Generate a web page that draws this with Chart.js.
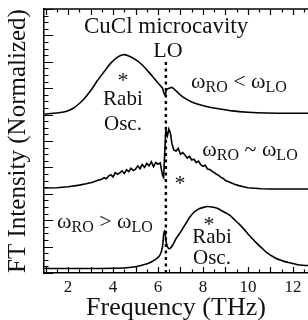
<!DOCTYPE html>
<html><head><meta charset="utf-8">
<script src="https://cdn.jsdelivr.net/npm/chart.js@4"></script>
<style>html,body{margin:0;padding:0;background:#fff}#w{width:308px;height:320px;position:relative}</style>
</head><body><div id="w"><canvas id="c"></canvas></div>
<script>
// ---- data (frequency in THz, intensity in normalized offset units) ----
const xTicks = [2, 4, 6, 8, 10, 12];
const loFreq = [6.35, 6.35];
const loLevel = [0, 8.0];

const topFreq = [0.95,1.5,1.8,2.0,2.25,2.5,2.7,3.0,3.3,3.6,3.9,4.2,4.45,4.7,5.0,5.3,5.6,5.9,6.1,6.2,6.25,6.32,6.38,6.5,6.62,6.8,7.1,7.5,7.9,8.3,8.7,9.3,10.0,10.8,12.7];
const topVal  = [6.02,6.06,6.10,6.15,6.25,6.42,6.58,6.90,7.28,7.62,7.95,8.18,8.27,8.22,8.08,7.88,7.60,7.30,7.10,7.00,6.85,6.75,6.95,7.00,7.03,6.90,6.67,6.48,6.36,6.28,6.22,6.14,6.09,6.06,6.05];

const midFreq = [0.95,1.5,2.0,2.5,2.8,3.1,3.3,
  3.5,3.6,3.7,3.8,3.9,4.0,4.1,4.2,4.3,4.4,4.5,4.6,4.7,4.8,4.9,5.0,5.1,5.2,5.3,5.4,5.5,5.6,5.7,5.8,5.9,6.0,6.1,
  6.2,6.25,6.3,6.35,6.42,6.48,6.55,6.62,
  6.7,6.8,6.9,7.0,7.1,7.2,7.3,7.4,7.5,7.6,7.7,7.8,7.9,8.0,8.1,8.2,8.3,8.4,8.5,8.6,8.7,8.8,8.9,9.0,
  9.2,9.4,9.6,9.8,10.0,10.3,10.6,11.0,11.5,12.0,12.7];
const midVal  = [3.22,3.23,3.27,3.33,3.38,3.44,3.50,
  3.55,3.61,3.57,3.67,3.72,3.64,3.80,3.74,3.79,3.87,3.77,3.91,3.84,3.97,3.88,3.93,4.06,3.95,4.11,4.00,4.15,4.06,4.21,4.03,4.19,4.12,4.17,
  3.70,3.62,4.60,5.40,5.20,5.45,5.30,4.90,
  4.66,4.62,4.72,4.50,4.56,4.47,4.35,4.42,4.28,4.31,4.18,4.24,4.10,4.04,4.08,3.94,3.92,3.86,3.80,3.74,3.70,3.62,3.58,3.50,
  3.44,3.36,3.31,3.27,3.23,3.21,3.19,3.18,3.18,3.18,3.18];

const botFreq = [0.95,3.0,4.0,4.6,5.0,5.4,5.7,5.95,6.1,6.2,6.25,6.3,6.38,6.5,6.65,6.8,7.0,7.2,7.4,7.6,7.8,8.0,8.2,8.4,8.6,8.8,9.0,9.2,9.4,9.6,9.8,10.0,10.2,10.4,10.6,10.8,11.0,11.2,11.4,11.6,11.8,12.0,12.3,12.7];
const botVal  = [0.17,0.17,0.18,0.20,0.24,0.32,0.42,0.55,0.70,1.00,1.45,1.60,1.10,0.92,1.05,1.30,1.55,1.82,2.10,2.30,2.42,2.48,2.52,2.50,2.46,2.38,2.28,2.18,2.02,1.86,1.68,1.48,1.30,1.12,0.96,0.80,0.68,0.58,0.50,0.44,0.40,0.36,0.30,0.28];

const pts = (xs, ys) => xs.map((x, i) => ({x, y: ys[i]}));
const SERIF = '"Liberation Serif", "DejaVu Serif", serif';

// text annotations placed in data coordinates
const notes = [
  {t: 'CuCl microcavity', x: 6.36, y: 9.09, s: 23},
  {t: 'LO', x: 6.44, y: 8.18, s: 22},
  {t: '*', x: 4.44, y: 7.05, s: 22},
  {t: 'Rabi', x: 4.44, y: 6.36, s: 21},
  {t: 'Osc.', x: 4.44, y: 5.42, s: 21},
  {t: '*', x: 6.98, y: 3.15, s: 22},
  {t: '*', x: 8.27, y: 1.58, s: 22},
  {t: 'Rabi', x: 8.4, y: 1.14, s: 21},
  {t: 'Osc.', x: 8.4, y: 0.34, s: 21},
  {w: ['<'], x: 9.6, y: 7.01},
  {w: ['~'], x: 10.09, y: 4.43},
  {w: ['>'], x: 3.64, y: 1.70}
];

const deco = {
  id: 'deco',
  afterDatasetsDraw(chart) {
    const {ctx, chartArea: a, scales: {x, y}} = chart;
    ctx.save();
    ctx.strokeStyle = '#000';
    ctx.lineWidth = 1.5;
    ctx.beginPath(); ctx.moveTo(a.left, a.top); ctx.lineTo(a.right, a.top); ctx.stroke();
    ctx.lineWidth = 1.2;
    ctx.beginPath();
    for (let v = Math.ceil(x.min * 2) / 2; v <= x.max; v += 0.5) {
      const px = Math.round(x.getPixelForValue(v)) + 0.5;
      const L = Number.isInteger(v) ? 6 : 3.5;
      ctx.moveTo(px, a.bottom); ctx.lineTo(px, a.bottom - L);
      ctx.moveTo(px, a.top); ctx.lineTo(px, a.top + L);
    }
    for (let v = 0; v <= y.max; v += 0.25) {
      const py = Math.round(y.getPixelForValue(v)) + 0.5;
      const L = Number.isInteger(v) ? 9 : 4.5;
      ctx.moveTo(a.left, py); ctx.lineTo(a.left + L, py);
    }
    ctx.stroke();
    ctx.fillStyle = '#111';
    ctx.textBaseline = 'alphabetic';
    for (const n of notes) {
      const px = x.getPixelForValue(n.x), py = y.getPixelForValue(n.y);
      if (n.t) {
        ctx.font = n.s + 'px ' + SERIF;
        ctx.textAlign = 'center';
        ctx.fillText(n.t, px, py);
      } else {
        const big = '22px ' + SERIF, sm = '16px ' + SERIF;
        const parts = [['ω', big, 0], ['RO', sm, 4], [' ' + n.w[0] + ' ', big, 0], ['ω', big, 0], ['LO', sm, 4]];
        let W = 0;
        for (const p of parts) { ctx.font = p[1]; W += ctx.measureText(p[0]).width; }
        let cx = px - W / 2;
        ctx.textAlign = 'left';
        for (const p of parts) { ctx.font = p[1]; ctx.fillText(p[0], cx, py + p[2]); cx += ctx.measureText(p[0]).width; }
      }
    }
    ctx.restore();
  }
};

const line = (data, tension) => ({data, borderColor: '#000', borderWidth: 1.6, pointRadius: 0, tension, fill: false});

new Chart(document.getElementById('c'), {
  type: 'line',
  data: {
    datasets: [
      line(pts(topFreq, topVal), 0.3),
      line(pts(midFreq, midVal), 0),
      line(pts(botFreq, botVal), 0.3),
      {data: pts(loFreq, loLevel), borderColor: '#000', borderWidth: 2.4, borderDash: [3, 3.5], pointRadius: 0, fill: false}
    ]
  },
  options: {
    responsive: true, maintainAspectRatio: false, animation: false,
    layout: {padding: {top: 9, right: 0, left: 0, bottom: 0}},
    plugins: {legend: {display: false}, tooltip: {enabled: false}},
    scales: {
      x: {
        type: 'linear', min: 0.93, max: 12.67,
        afterBuildTicks: s => { s.ticks = xTicks.map(v => ({value: v})); },
        afterFit: s => { s.height = 47; },
        grid: {display: false},
        border: {display: true, color: '#000', width: 1.5},
        ticks: {color: '#111', padding: -4, font: {family: SERIF, size: 17}},
        title: {display: true, text: 'Frequency (THz)', color: '#111', padding: {top: 0, bottom: -4}, font: {family: SERIF, size: 26}}
      },
      y: {
        min: 0, max: 10,
        afterFit: s => { s.width = 44; },
        grid: {display: false},
        border: {display: true, color: '#000', width: 1.5},
        ticks: {display: false},
        title: {display: true, text: 'FT Intensity (Normalized)', color: '#111', padding: {top: 3, bottom: 0}, font: {family: SERIF, size: 25}}
      }
    }
  },
  plugins: [deco]
});
</script>
</body></html>
